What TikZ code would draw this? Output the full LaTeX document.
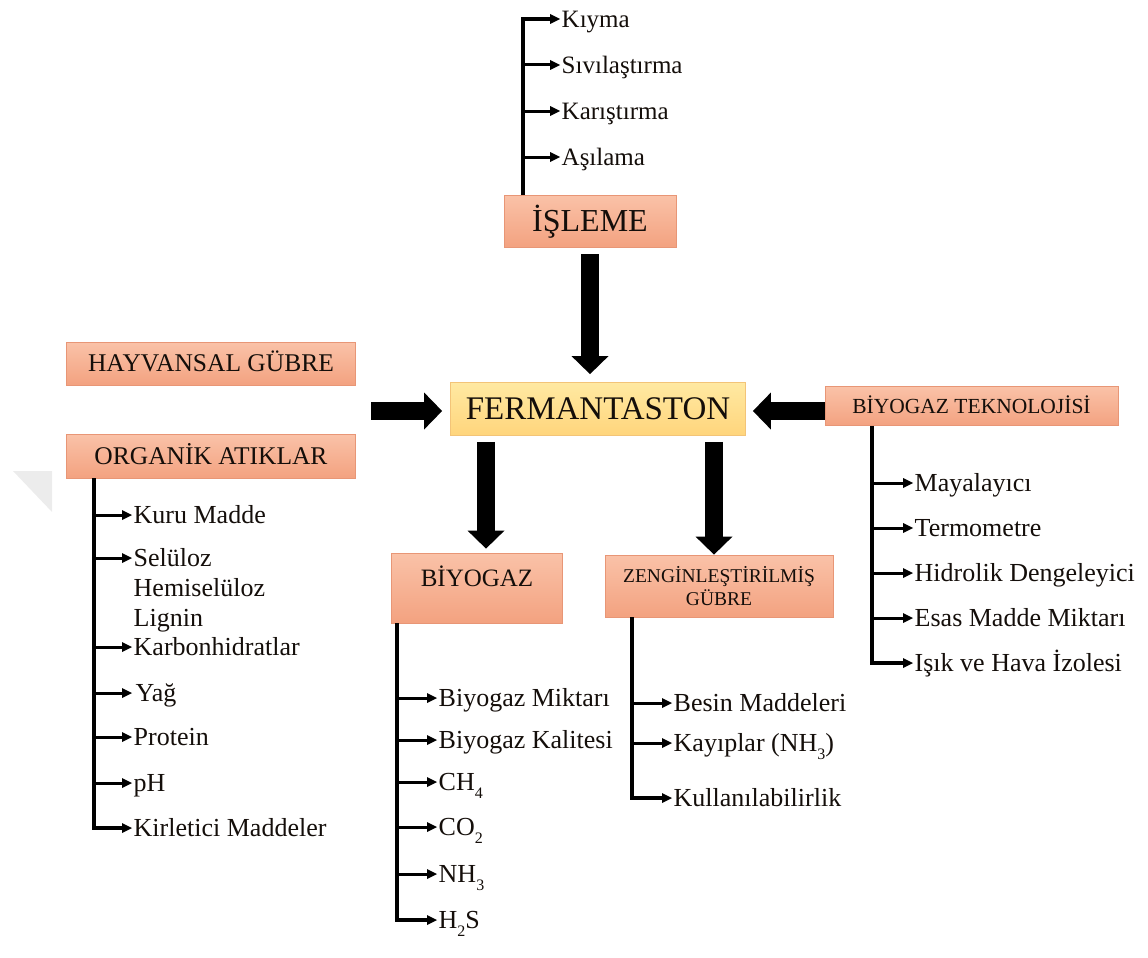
\documentclass[tikz,border=0pt]{standalone}
\usepackage{fontspec}
\setmainfont{Liberation Serif}
\usetikzlibrary{arrows.meta}

\definecolor{boxTop}{RGB}{250,194,168}
\definecolor{boxBot}{RGB}{243,162,128}
\definecolor{boxEdge}{RGB}{232,150,118}
\definecolor{fermTop}{RGB}{255,233,162}
\definecolor{fermBot}{RGB}{255,213,124}
\definecolor{fermEdge}{RGB}{243,196,120}
\definecolor{ink}{RGB}{20,14,10}
\definecolor{markGray}{RGB}{236,236,236}

% lowered, smaller digit for chemical formulas
\newcommand\lowidx[1]{\raisebox{-0.7ex}{\fontsize{16}{16}\selectfont #1}}

\tikzset{
  box/.style={draw=boxEdge, line width=0.8pt, top color=boxTop, bottom color=boxBot,
    text=ink, inner sep=0pt, align=center},
  mainbox/.style={draw=fermEdge, line width=0.8pt, top color=fermTop, bottom color=fermBot,
    text=ink, inner sep=0pt},
  blockarrow/.style={line width=18pt, -{Triangle[length=18pt,width=37pt,line width=0pt]}},
  twig/.style={line width=3pt, -{Triangle[length=10pt,width=10pt,line width=0pt]}},
  stem/.style={twig, line width=3.5pt},
  item/.style={anchor=west, inner xsep=1.5pt, inner ysep=0pt, text height=17.2pt,
    text depth=0pt, text=ink, font=\fontsize{26}{30}\selectfont},
  topitem/.style={item, text height=16.5pt, font=\fontsize{25}{29}\selectfont}
}

\begin{document}
\begin{tikzpicture}[x=1pt,y=-1pt]
\useasboundingbox (0,0) rectangle (1148,958);

% faint corner mark at the left edge
\fill[markGray] (13,471) -- (52,471) -- (52,512) -- cycle;

% ---------- boxes ----------
\node[box, minimum width=172pt, minimum height=52pt, text height=21.2pt, text depth=0pt,
  font=\fontsize{32}{36}\selectfont] (isl) at (590,221) {İŞLEME};
\node[box, minimum width=289pt, minimum height=43pt, text height=16.8pt, text depth=0pt,
  font=\fontsize{25.5}{30}\selectfont] (hay) at (211,363.5) {HAYVANSAL GÜBRE};
\node[box, minimum width=289pt, minimum height=44pt, text height=16.8pt, text depth=0pt,
  font=\fontsize{25.5}{30}\selectfont] (org) at (211,456) {ORGANİK ATIKLAR};
\node[mainbox, minimum width=295pt, minimum height=53pt, text height=21.8pt, text depth=0pt,
  font=\fontsize{33}{38}\selectfont] (ferm) at (598,409) {FERMANTASTON};
\node[box, minimum width=293pt, minimum height=39pt, text height=14.2pt, text depth=0pt,
  font=\fontsize{21.5}{26}\selectfont] (bt) at (971.5,406) {BİYOGAZ TEKNOLOJİSİ};
\node[box, minimum width=171pt, minimum height=70pt, text height=16.5pt, text depth=20pt,
  font=\fontsize{25}{30}\selectfont] (bio) at (477,588) {BİYOGAZ};
\node[box, minimum width=228pt, minimum height=62pt,
  font=\fontsize{19.5}{23}\selectfont] (zeng) at (719,586) {ZENGİNLEŞTİRİLMİŞ\\GÜBRE};

% ---------- block arrows into and out of the fermenter ----------
\coordinate (inL) at (371,411);
\coordinate (dL) at (486,0);
\coordinate (dR) at (714,0);
\draw[blockarrow, shorten <=7pt, shorten >=8pt] (isl.south) -- (isl.south |- ferm.north);
\draw[blockarrow, shorten >=8pt] (inL) -- (inL -| ferm.west);
\draw[blockarrow, shorten >=7pt] (bt.west |- inL) -- (inL -| ferm.east);
\draw[blockarrow, shorten <=6pt, shorten >=4pt] (ferm.south -| dL) -- (bio.north -| dL);
\draw[blockarrow, shorten <=6pt] (ferm.south -| dR) -- (zeng.north -| dR);

% ---------- processing steps ----------
\node[topitem] (i1) at (560,19) {Kıyma};
\node[topitem] (i2) at (560,65) {Sıvılaştırma};
\node[topitem] (i3) at (560,111) {Karıştırma};
\node[topitem] (i4) at (560,157) {Aşılama};
\coordinate (iT) at (523,0);
\draw[stem] (isl.north -| iT) |- (i1.west);
\foreach \n in {i2,i3,i4} \draw[twig] (iT |- \n.west) -- (\n.west);

% ---------- organic waste properties ----------
\node[item] (o1) at (132,515) {Kuru Madde};
\node[item] (o2) at (132,558) {\begin{tabular}[t]{@{}l@{}}Selüloz\\Hemiselüloz\\Lignin\end{tabular}};
\node[item] (o3) at (132,647) {Karbonhidratlar};
\node[item] (o4) at (132,693) {\hspace{2pt}Yağ};
\node[item] (o5) at (132,737) {Protein};
\node[item] (o6) at (132,783) {pH};
\node[item] (o7) at (132,828) {Kirletici Maddeler};
\coordinate (oT) at (94,0);
\draw[stem] (org.south -| oT) |- (o7.west);
\foreach \n in {o1,o2,o3,o4,o5,o6} \draw[twig] (oT |- \n.west) -- (\n.west);

% ---------- biogas outputs ----------
\node[item] (b1) at (437,698) {Biyogaz Miktarı};
\node[item] (b2) at (437,740) {Biyogaz Kalitesi};
\node[item] (b3) at (437,782) {CH\lowidx{4}};
\node[item] (b4) at (437,827) {CO\lowidx{2}};
\node[item] (b5) at (437,874) {NH\lowidx{3}};
\node[item] (b6) at (437,920) {H\lowidx{2}S};
\coordinate (bT) at (397,0);
\draw[stem] (bio.south -| bT) |- (b6.west);
\foreach \n in {b1,b2,b3,b4,b5} \draw[twig] (bT |- \n.west) -- (\n.west);

% ---------- enriched fertiliser ----------
\node[item] (z1) at (672,703) {Besin Maddeleri};
\node[item] (z2) at (672,743) {Kayıplar (NH\lowidx{3})};
\node[item] (z3) at (672,798) {Kullanılabilirlik};
\coordinate (zT) at (632,0);
\draw[stem] (zeng.south -| zT) |- (z3.west);
\foreach \n in {z1,z2} \draw[twig] (zT |- \n.west) -- (\n.west);

% ---------- biogas technology ----------
\node[item] (t1) at (913,483) {Mayalayıcı};
\node[item] (t2) at (913,528) {Termometre};
\node[item] (t3) at (913,573) {Hidrolik Dengeleyici};
\node[item] (t4) at (913,618) {Esas Madde Miktarı};
\node[item] (t5) at (913,663) {Işık ve Hava İzolesi};
\coordinate (tT) at (872,0);
\draw[stem] (bt.south -| tT) |- (t5.west);
\foreach \n in {t1,t2,t3,t4} \draw[twig] (tT |- \n.west) -- (\n.west);
\end{tikzpicture}
\end{document}
